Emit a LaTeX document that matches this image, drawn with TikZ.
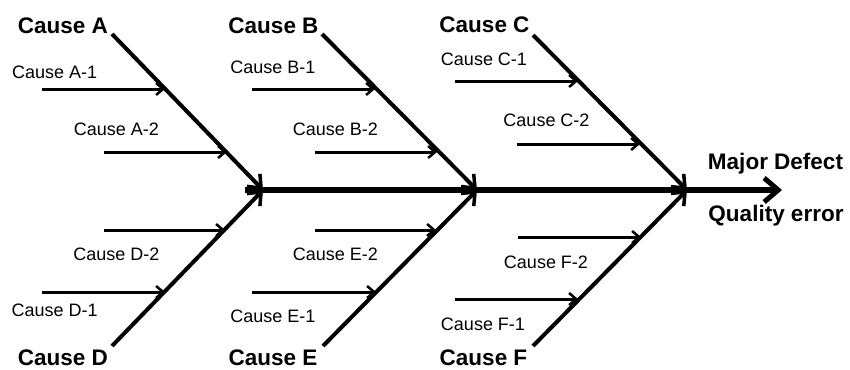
\documentclass[tikz,border=0pt]{standalone}
\usepackage{fontspec}
\setmainfont{Liberation Sans}
\usetikzlibrary{arrows.meta}
\begin{document}
\begin{tikzpicture}[x=1pt,y=-1pt,
  big/.style={font=\fontsize{22.5}{26}\selectfont\bfseries,inner sep=0pt},
  small/.style={font=\fontsize{18}{21}\selectfont,inner sep=0pt},
  spine/.style={line width=6pt,-{Straight Barb[length=14pt,width=24pt,line width=5pt]}},
  bone/.style={line width=4pt,-{Straight Barb[length=11pt,width=18pt,line width=3.5pt]}},
  sub/.style={line width=3pt,-{Straight Barb[length=7pt,width=12pt,line width=2.5pt]}}]
\useasboundingbox (0,0) rectangle (850,369);
% spine coordinates
\coordinate (s0) at (245,190);
\coordinate (jA) at (263,190);
\coordinate (jB) at (477,190);
\coordinate (jC) at (687,190);
\coordinate (s1) at (782,190);
% bone ends
\coordinate (tA) at (112,34);
\coordinate (tB) at (322,34);
\coordinate (tC) at (533,35);
\coordinate (bD) at (112,346);
\coordinate (bE) at (323,346);
\coordinate (bF) at (533,346);
% spine and bones
\draw[spine] (s0) -- (s1);
\draw[bone] (tA) -- (jA);
\draw[bone] (tB) -- (jB);
\draw[bone] (tC) -- (jC);
\draw[bone] (bD) -- (jA);
\draw[bone] (bE) -- (jB);
\draw[bone] (bF) -- (jC);
% sub-cause arrow coordinates
\coordinate (a1s) at (42,89);   \coordinate (a1e) at (165,89);
\coordinate (a2s) at (104,152); \coordinate (a2e) at (227,152);
\coordinate (d2s) at (104,230); \coordinate (d2e) at (225,230);
\coordinate (d1s) at (42,292);  \coordinate (d1e) at (165,292);
\coordinate (b1s) at (252,89);  \coordinate (b1e) at (375,89);
\coordinate (b2s) at (315,152); \coordinate (b2e) at (437,152);
\coordinate (e2s) at (315,230); \coordinate (e2e) at (436,230);
\coordinate (e1s) at (252,292); \coordinate (e1e) at (376,292);
\coordinate (c1s) at (455,81);  \coordinate (c1e) at (578,81);
\coordinate (c2s) at (517,144); \coordinate (c2e) at (640,144);
\coordinate (f2s) at (518,237); \coordinate (f2e) at (641,237);
\coordinate (f1s) at (455,299); \coordinate (f1e) at (578,299);
\foreach \p in {a1,a2,d2,d1,b1,b2,e2,e1,c1,c2,f2,f1}
  \draw[sub] (\p s) -- (\p e);
% main labels
\node[big] (LA) at (63,26) {Cause A};
\node[big] (LB) at (273.5,26) {Cause B};
\node[big] (LC) at (484.5,25) {Cause C};
\node[big] (LD) at (63,358) {Cause D};
\node[big] (LE) at (273,358) {Cause E};
\node[big] (LF) at (483.5,358) {Cause F};
\node[big] (MD) at (775.5,164) {Major Defect};
\node[big] (QE) at (776,216) {Quality error};
% sub labels
\node[small] (LA1) at (54.7,72.5) {Cause A-1};
\node[small] (LA2) at (116.5,129) {Cause A-2};
\node[small] (LD2) at (116.5,254) {Cause D-2};
\node[small] (LD1) at (54.7,310) {Cause D-1};
\node[small] (LB1) at (273,67) {Cause B-1};
\node[small] (LB2) at (335.5,129) {Cause B-2};
\node[small] (LE2) at (335.5,254) {Cause E-2};
\node[small] (LE1) at (273,316) {Cause E-1};
\node[small] (LC1) at (484,59.5) {Cause C-1};
\node[small] (LC2) at (546.5,120.5) {Cause C-2};
\node[small] (LF2) at (546,262) {Cause F-2};
\node[small] (LF1) at (483,324) {Cause F-1};
\end{tikzpicture}
\end{document}
